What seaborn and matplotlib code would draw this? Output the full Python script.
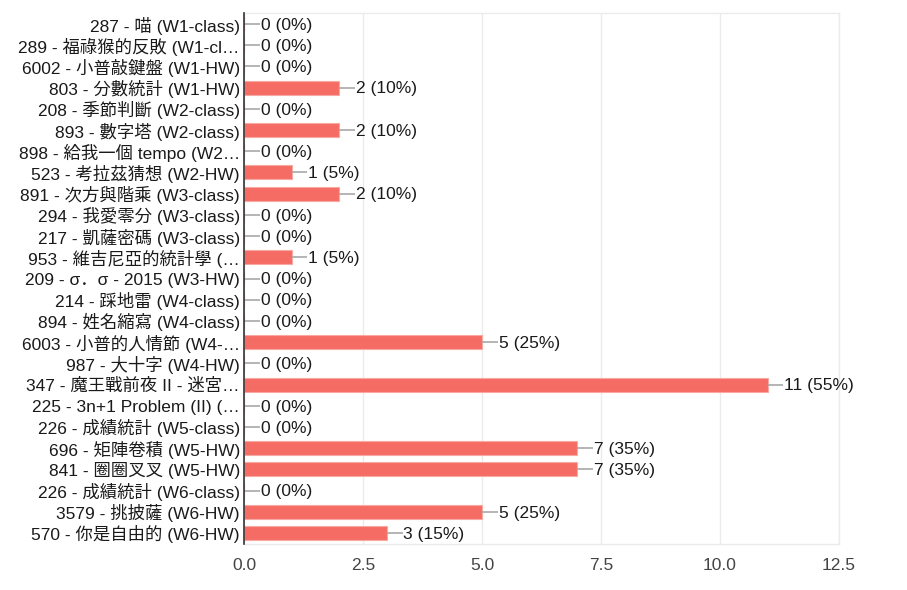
import matplotlib
matplotlib.use("Agg")
import matplotlib.pyplot as plt
import seaborn as sns
import pandas as pd

categories = [
    "287 - 喵 (W1-class)",
    "289 - 福祿猴的反敗 (W1-cl…",
    "6002 - 小普敲鍵盤 (W1-HW)",
    "803 - 分數統計 (W1-HW)",
    "208 - 季節判斷 (W2-class)",
    "893 - 數字塔 (W2-class)",
    "898 - 給我一個 tempo (W2…",
    "523 - 考拉茲猜想 (W2-HW)",
    "891 - 次方與階乘 (W3-class)",
    "294 - 我愛零分 (W3-class)",
    "217 - 凱薩密碼 (W3-class)",
    "953 - 維吉尼亞的統計學 (…",
    "209 - σ．σ - 2015 (W3-HW)",
    "214 - 踩地雷 (W4-class)",
    "894 - 姓名縮寫 (W4-class)",
    "6003 - 小普的人情節 (W4-…",
    "987 - 大十字 (W4-HW)",
    "347 - 魔王戰前夜 II - 迷宮…",
    "225 - 3n+1 Problem (II) (…",
    "226 - 成績統計 (W5-class)",
    "696 - 矩陣卷積 (W5-HW)",
    "841 - 圈圈叉叉 (W5-HW)",
    "226 - 成績統計 (W6-class)",
    "3579 - 挑披薩 (W6-HW)",
    "570 - 你是自由的 (W6-HW)",
]
counts = [0, 0, 0, 2, 0, 2, 0, 1, 2, 0, 0, 1, 0, 0, 0, 5, 0, 11, 0, 0, 7, 7, 0, 5, 3]
percents = [0, 0, 0, 10, 0, 10, 0, 5, 10, 0, 0, 5, 0, 0, 0, 25, 0, 55, 0, 0, 35, 35, 0, 25, 15]
xticks = [0, 2.5, 5, 7.5, 10, 12.5]

df = pd.DataFrame({"category": categories, "count": counts})

sns.set_style("white")
plt.rcParams["font.family"] = ["Liberation Sans", "Noto Sans CJK JP", "DejaVu Sans"]

fig = plt.figure(figsize=(9.07, 5.90), dpi=100)
ax = fig.add_axes([244 / 907, 46 / 590, (839 - 244) / 907, (577 - 46) / 590])

sns.barplot(data=df, y="category", x="count", orient="h", order=categories,
            color="#f46c63", saturation=1, width=0.66,
            edgecolor="#f8a9a3", linewidth=0.8, ax=ax, zorder=3)

for i, (c, p) in enumerate(zip(counts, percents)):
    ax.plot([c, c + 0.33], [i, i], color="#a8a8a8", lw=1.2, zorder=4,
            solid_capstyle="butt")
    ax.text(c + 0.35, i + 0.06, f"{c} ({p}%)", va="center", ha="left",
            fontsize=12.5, color="#1a1a1a", zorder=5)

ax.set_xlim(0, 12.5)
ax.set_ylim(len(categories) - 0.48, -0.52)
ax.set_xticks(xticks)
ax.set_xticklabels([f"{t:.1f}" for t in xticks])
ax.xaxis.grid(True, color="#ebebeb", lw=1, zorder=0)
ax.yaxis.grid(False)
ax.set_axisbelow(True)
ax.set_xlabel("")
ax.set_ylabel("")
ax.tick_params(axis="x", length=0, pad=10, labelsize=12.5, labelcolor="#444444")
ax.tick_params(axis="y", length=0, pad=3, labelsize=12.5, labelcolor="#1a1a1a")
for s in ["top", "right", "bottom"]:
    ax.spines[s].set_color("#ebebeb")
    ax.spines[s].set_linewidth(1)
ax.spines["left"].set_color("#333333")
ax.spines["left"].set_linewidth(1.2)
ax.spines["left"].set_zorder(6)

fig.savefig("out.png", dpi=100)
